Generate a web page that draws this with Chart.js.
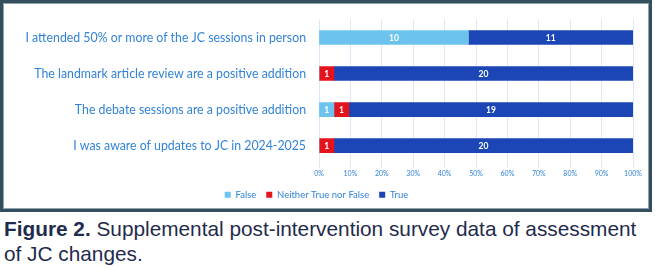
<!DOCTYPE html>
<html>
<head>
<meta charset="utf-8">
<script src="https://cdn.jsdelivr.net/npm/chart.js@4"></script>
<style>
  html, body { margin: 0; padding: 0; background: #fff; }
  body { width: 655px; height: 269px; position: relative; overflow: hidden; }
  #box { position: absolute; left: 0; top: 0; width: 646px; height: 206px;
    border: 3px solid #34505f; box-shadow: inset 0 0 0 1px #8fa3ad; }
  #wrap { position: absolute; left: 0; top: 0; width: 652px; height: 212px; }
  #cap { position: absolute; left: 4px; top: 216px; width: 650px;
    font-family: "Liberation Sans", Arial, sans-serif; font-size: 20.8px; line-height: 25px;
    color: #1f2b4d; }
  #cap b { font-weight: bold; }
</style>
</head>
<body>
<div id="box"></div>
<div id="wrap"><canvas id="c" width="652" height="212"></canvas></div>
<div id="cap"><b>Figure 2.</b> Supplemental post-intervention survey data of assessment<br>of JC changes.</div>
<script>
// survey statements (top to bottom) and response counts
const questions = [
  "I attended 50% or more of the JC sessions in person",
  "The landmark article review are a positive addition",
  "The debate sessions are a positive addition",
  "I was aware of updates to JC in 2024-2025",
];
const falseCounts = [10, 0, 1, 0];
const neitherCounts = [0, 1, 1, 1];
const trueCounts = [11, 20, 19, 20];
const xTicks = [0, 10, 20, 30, 40, 50, 60, 70, 80, 90, 100];

const totals = questions.map((_, i) => falseCounts[i] + neitherCounts[i] + trueCounts[i]);
const pct = (arr) => arr.map((v, i) => (v / totals[i]) * 100);

const BLUE_TXT = "#3283d6";
const FONT = "Lato, 'Open Sans', sans-serif";

// count labels inside each segment
const countLabels = {
  id: "countLabels",
  afterDatasetsDraw(chart) {
    const ctx = chart.ctx;
    ctx.save();
    ctx.font = "bold 8.5px " + FONT;
    ctx.fillStyle = "#ffffff";
    ctx.textAlign = "center";
    ctx.textBaseline = "middle";
    chart.data.datasets.forEach((ds, di) => {
      chart.getDatasetMeta(di).data.forEach((bar, i) => {
        const n = ds.counts[i];
        if (!n) return;
        ctx.fillText(String(n), (bar.x + bar.base) / 2, bar.y + 0.5);
      });
    });
    ctx.restore();
  },
};

// category labels, drawn narrow (the original uses a condensed face)
const narrowLabels = {
  id: "narrowLabels",
  afterDraw(chart) {
    const ctx = chart.ctx, ys = chart.scales.y;
    ctx.save();
    ctx.font = "14px " + FONT;
    ctx.fillStyle = BLUE_TXT;
    ctx.textAlign = "right";
    ctx.textBaseline = "middle";
    chart.data.labels.forEach((lab, i) => {
      ctx.save();
      ctx.translate(chart.chartArea.left - 13, ys.getPixelForValue(i));
      ctx.scale(0.88, 1);
      ctx.fillText(lab, 0, 0);
      ctx.restore();
    });
    ctx.restore();
  },
};

new Chart(document.getElementById("c"), {
  type: "bar",
  data: {
    labels: questions,
    datasets: [
      { label: "False", data: pct(falseCounts), counts: falseCounts, backgroundColor: "#6cc4ee" },
      { label: "Neither True nor False", data: pct(neitherCounts), counts: neitherCounts, backgroundColor: "#e4141e" },
      { label: "True", data: pct(trueCounts), counts: trueCounts, backgroundColor: "#1c46b6" },
    ],
  },
  options: {
    indexAxis: "y",
    responsive: false,
    animation: false,
    layout: { padding: { left: 0, right: 19, top: 19.5, bottom: 2.5 } },
    datasets: { bar: { barThickness: 14, borderWidth: 0 } },
    scales: {
      x: {
        stacked: true, min: 0, max: 100,
        afterBuildTicks: (s) => { s.ticks = xTicks.map((v) => ({ value: v })); },
        grid: { color: "#dde8f4", lineWidth: 1, tickLength: 4, drawTicks: true },
        border: { display: false },
        ticks: { color: BLUE_TXT, font: { family: FONT, size: 7 }, padding: 2,
          maxRotation: 0, callback: (v) => v + "%" },
      },
      y: {
        stacked: true,
        grid: { display: false },
        border: { display: false },
        afterFit: (s) => { s.width = 319; },
        ticks: { display: false },
      },
    },
    plugins: {
      legend: {
        position: "bottom",
        labels: { color: BLUE_TXT, boxWidth: 6, boxHeight: 6, padding: 10,
          font: { family: FONT, size: 9.5, lineHeight: 1 } },
      },
      tooltip: { enabled: false },
    },
  },
  plugins: [countLabels, narrowLabels],
});
</script>
</body>
</html>
